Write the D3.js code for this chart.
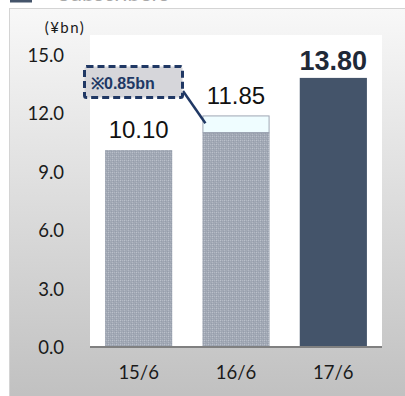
<!DOCTYPE html>
<html>
<head>
<meta charset="utf-8">
<script src="https://cdn.jsdelivr.net/npm/d3@7"></script>
<style>
  html, body { margin: 0; padding: 0; background: #fff; }
  svg { display: block; }
</style>
</head>
<body>
<svg id="chart" width="405" height="396"></svg>
<script>
// Period labels and totals (¥bn)
const categories = ["15/6", "16/6", "17/6"];
const values = [10.10, 11.85, 13.80];
// Portion of each total that is called out separately (¥bn)
const noteAmounts = [0, 0.85, 0];
const noteLabel = "※0.85bn";
const yTicks = [0, 3, 6, 9, 12, 15];
const unitLabel = "(¥bn)";
const headerText = "Subscribers";

const svg = d3.select("#chart");
const defs = svg.append("defs");

// panel gradient
const grad = defs.append("linearGradient").attr("id", "panelGrad")
  .attr("x1", 0).attr("y1", 0).attr("x2", 0).attr("y2", 1);
grad.append("stop").attr("offset", "0%").attr("stop-color", "#f8f8f8");
grad.append("stop").attr("offset", "100%").attr("stop-color", "#bfbfbf");

// fine grain fill for the earlier periods
const pat = defs.append("pattern").attr("id", "dots")
  .attr("patternUnits", "userSpaceOnUse").attr("width", 4).attr("height", 4);
pat.append("rect").attr("width", 4).attr("height", 4).attr("fill", "#a2a9b5");
[[0, 0, "#bcc2cc"], [2, 0, "#b2b8c3"], [0, 2, "#b2b8c3"], [1, 1, "#959dab"], [3, 3, "#959dab"], [1, 3, "#9ca3b0"], [3, 1, "#9ca3b0"]]
  .forEach(([x, y, c]) => pat.append("rect").attr("x", x).attr("y", y)
    .attr("width", 1).attr("height", 1).attr("fill", c));

// header strip (mostly cut off above)
svg.append("rect").attr("x", 10).attr("y", -8).attr("width", 22).attr("height", 10.5).attr("fill", "#44546a");
svg.append("text").attr("x", 58).attr("y", 1)
  .attr("font-family", "Lato, sans-serif").attr("font-size", 22)
  .attr("fill", "#a8a8a8").text(headerText);

// outer panel
svg.append("rect").attr("x", 9.5).attr("y", 8.5).attr("width", 400).attr("height", 400)
  .attr("fill", "url(#panelGrad)").attr("stroke", "#d4d4d4").attr("stroke-width", 1);

// plot area
const plot = { left: 90, right: 382, top: 35, bottom: 347 };
svg.append("rect").attr("x", plot.left).attr("y", plot.top)
  .attr("width", plot.right - plot.left).attr("height", plot.bottom - plot.top)
  .attr("fill", "#ffffff");

const x = d3.scaleBand().domain(categories).range([plot.left, plot.right])
  .paddingInner(0.31).paddingOuter(0.155);
const y = d3.scaleLinear().domain([0, 16]).range([plot.bottom, plot.top]);

// y axis labels
const yAxis = d3.axisLeft(y).tickValues(yTicks).tickFormat(d3.format(".1f"))
  .tickSize(0).tickPadding(0);
const yG = svg.append("g").attr("transform", "translate(64,0)").call(yAxis);
yG.select(".domain").remove();
yG.selectAll("text").attr("font-family", "Lato, sans-serif").attr("font-size", 18.5)
  .attr("fill", "#1a1a1a").attr("dy", "0.36em");

// x axis labels
const xAxis = d3.axisBottom(x).tickSize(0).tickPadding(0);
const xG = svg.append("g").attr("transform", `translate(0,${plot.bottom})`).call(xAxis);
xG.select(".domain").remove();
xG.selectAll("text").attr("font-family", "Lato, sans-serif").attr("font-size", 18.5)
  .attr("fill", "#1a1a1a").attr("y", 32).attr("dy", 0);

svg.append("text").attr("x", 65).attr("y", 33).attr("text-anchor", "middle")
  .attr("font-family", "Lato, sans-serif").attr("font-size", 15)
  .attr("letter-spacing", 1.5).attr("fill", "#1a1a1a").text(unitLabel);

const last = categories.length - 1;

// bars
svg.selectAll("rect.bar").data(categories).enter().append("rect")
  .attr("class", "bar")
  .attr("x", d => x(d))
  .attr("width", x.bandwidth())
  .attr("y", (d, i) => y(values[i] - noteAmounts[i]))
  .attr("height", (d, i) => y(0) - y(values[i] - noteAmounts[i]))
  .attr("fill", (d, i) => i === last ? "#44546a" : "url(#dots)");

// called-out portion on top of the bar
svg.selectAll("rect.note").data(categories.filter((d, i) => noteAmounts[i] > 0)).enter()
  .append("rect").attr("class", "note")
  .attr("x", d => x(d) + 0.5)
  .attr("width", x.bandwidth() - 1)
  .attr("y", d => y(values[categories.indexOf(d)]))
  .attr("height", d => { const i = categories.indexOf(d); return y(values[i] - noteAmounts[i]) - y(values[i]); })
  .attr("fill", "#effdff").attr("stroke", "#9ea6b4").attr("stroke-width", 1);

// baseline
svg.append("line").attr("x1", plot.left).attr("x2", plot.right)
  .attr("y1", y(0)).attr("y2", y(0)).attr("stroke", "#808080").attr("stroke-width", 2);

// value labels
svg.selectAll("text.val").data(categories).enter().append("text")
  .attr("class", "val")
  .attr("x", d => x(d) + x.bandwidth() / 2)
  .attr("y", (d, i) => y(values[i]) - (i === last ? 8 : 12))
  .attr("text-anchor", "middle")
  .attr("font-family", "'Liberation Sans', Arial, sans-serif")
  .attr("font-size", (d, i) => i === last ? 27 : 24)
  .attr("font-weight", (d, i) => i === last ? "bold" : "normal")
  .attr("fill", (d, i) => i === last ? "#1f2937" : "#111111")
  .text((d, i) => values[i].toFixed(2));

// callout box and leader line
const ni = noteAmounts.findIndex(v => v > 0);
const barLeft = x(categories[ni]);
const noteMidY = (y(values[ni]) + y(values[ni] - noteAmounts[ni])) / 2;
svg.append("line")
  .attr("x1", 183).attr("y1", 91)
  .attr("x2", barLeft + 3).attr("y2", noteMidY - 1)
  .attr("stroke", "#203864").attr("stroke-width", 2.5);
svg.append("rect").attr("x", 84.5).attr("y", 66.5).attr("width", 98).attr("height", 31)
  .attr("rx", 2)
  .attr("fill", "#d6d6da").attr("stroke", "#203864").attr("stroke-width", 3)
  .attr("stroke-dasharray", "7,4");
svg.append("text").attr("x", 91).attr("y", 89)
  .attr("font-family", "'Liberation Sans', Arial, sans-serif").attr("font-size", 16)
  .attr("font-weight", "bold").attr("fill", "#203864").text(noteLabel);
</script>
</body>
</html>
